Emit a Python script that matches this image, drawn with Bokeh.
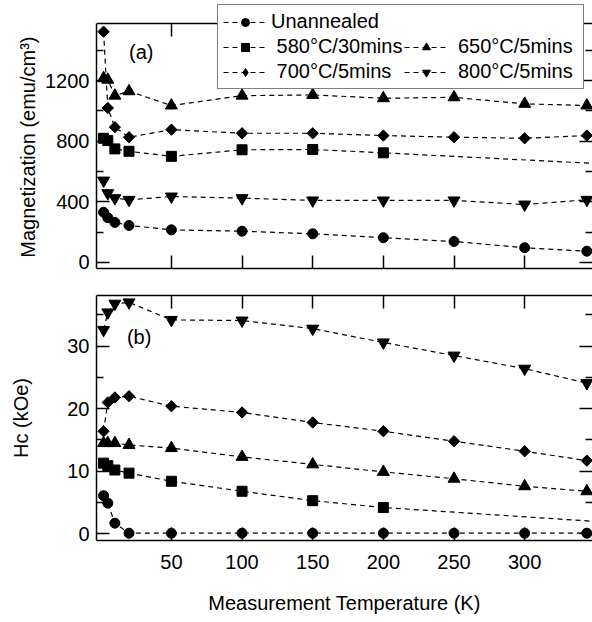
from bokeh.plotting import figure
from bokeh.models import LinearAxis, Range1d, Legend, LegendItem, Label, FixedTicker
from bokeh.layouts import column
from bokeh.embed import file_html
from bokeh.resources import INLINE
import math

FONT = "Liberation Sans"
NBSP = "\u00a0"

series_labels = ["Unannealed", " 580°C/30mins", " 650°C/5mins ", " 700°C/5mins", " 800°C/5mins "]

temperature = [2, 5, 10, 20, 50, 100, 150, 200, 250, 300, 344]
temperature_580 = [2, 5, 10, 20, 50, 100, 150, 200, 362]

mag_unannealed = [331, 295, 264, 244, 215, 206, 189, 163, 138, 97, 74]
mag_580 = [819, 804, 749, 733, 700, 743, 745, 723, 647]
mag_650 = [1215, 1205, 1100, 1129, 1035, 1100, 1105, 1083, 1089, 1046, 1035]
mag_700 = [1522, 1019, 892, 826, 876, 852, 852, 837, 826, 819, 837]
mag_800 = [540, 457, 424, 413, 435, 424, 409, 409, 409, 382, 413]

hc_unannealed = [6.1, 4.9, 1.7, 0.1, 0.1, 0.1, 0.1, 0.1, 0.1, 0.1, 0.1]
hc_580 = [11.3, 10.9, 10.2, 9.7, 8.4, 6.8, 5.3, 4.2, 1.8]
hc_650 = [14.5, 14.5, 14.5, 14.2, 13.7, 12.3, 11.1, 9.9, 8.8, 7.6, 6.8]
hc_700 = [16.4, 21.0, 21.8, 22.0, 20.4, 19.4, 17.8, 16.4, 14.8, 13.2, 11.7]
hc_800 = [32.6, 35.4, 36.8, 37.0, 34.2, 34.1, 32.8, 30.6, 28.5, 26.4, 24.1]

x_ticks = [50, 100, 150, 200, 250, 300]
mag_ticks = [0, 400, 800, 1200]
mag_minor = [200, 600, 1000, 1400]
hc_ticks = [0, 10, 20, 30]
hc_minor = [5, 15, 25, 35]

markers = ["circle", "square", "triangle", "square", "inverted_triangle"]
sizes = [10, 10, 12, 8, 12]
angles = [0, 0, 0, math.pi / 4, 0]

X_RANGE = (-3, 348)
MAG_AXIS = (-40, 1576)     # visible axis box of panel (a)
MAG_VIEW_TOP = 1708        # frame extends above the box so the legend is not clipped
HC_AXIS = (-1.07, 38.1)


def make_fig(height, yr, border_top, border_bottom):
    p = figure(width=592, height=height, x_range=Range1d(*X_RANGE), y_range=Range1d(*yr),
               output_backend="svg", toolbar_location=None,
               x_axis_location=None, y_axis_location=None,
               min_border_left=96, min_border_right=0, min_border_top=border_top,
               min_border_bottom=border_bottom)
    p.outline_line_color = None
    p.grid.grid_line_color = None
    p.background_fill_color = "white"
    p.border_fill_color = "white"
    return p


def style(ax, show_labels, ticks):
    ax.major_tick_in = 13
    ax.major_tick_out = 0
    ax.minor_tick_in = 7
    ax.minor_tick_out = 0
    ax.axis_line_width = 1.5
    ax.major_tick_line_width = 1.5
    ax.minor_tick_line_width = 1.5
    ax.axis_line_color = "black"
    ax.major_tick_line_color = "black"
    ax.minor_tick_line_color = "black"
    ax.major_label_text_font = FONT
    ax.major_label_text_color = "black"
    ax.axis_label_text_font = FONT
    ax.axis_label_text_font_style = "normal"
    ax.axis_label_text_color = "black"
    ax.axis_label_text_font_size = "20px"
    if show_labels:
        ax.major_label_text_font_size = "20px"
        ax.major_label_standoff = 7
    else:
        ax.major_label_overrides = {t: "" for t in ticks}
        ax.major_label_text_font_size = "1px"
        ax.major_label_standoff = 0


def add_axes(p, yticks, yminor, ylabel, ylabel_standoff, bottom_labels, top_at=None, ybounds="auto"):
    xt = FixedTicker(ticks=x_ticks, minor_ticks=[])
    yt = FixedTicker(ticks=yticks, minor_ticks=yminor)
    below = LinearAxis(ticker=xt)
    style(below, bottom_labels, x_ticks)
    if bottom_labels:
        below.major_label_standoff = 14
        below.axis_label = "Measurement Temperature (K)"
        below.axis_label_standoff = 20
    above = LinearAxis(ticker=xt)
    style(above, False, x_ticks)
    if top_at is not None:
        above.fixed_location = top_at
    left = LinearAxis(ticker=yt, axis_label=ylabel, bounds=ybounds)
    style(left, True, yticks)
    left.axis_label_standoff = ylabel_standoff
    right = LinearAxis(ticker=yt, bounds=ybounds)
    style(right, False, yticks)
    right.axis_line_color = None
    p.add_layout(below, "below")
    p.add_layout(above, "above")
    p.add_layout(left, "left")
    p.add_layout(right, "right")


def draw(p, xs_list, ys_list):
    out = []
    for xs, ys, m, s, a in zip(xs_list, ys_list, markers, sizes, angles):
        ln = p.line(xs, ys, line_color="black", line_width=1.2, line_dash="5 4")
        sc = p.scatter(xs, ys, marker=m, size=s, angle=a, fill_color="black", line_color="black")
        out.append([ln, sc])
    return out


xs_list = [temperature, temperature_580, temperature, temperature, temperature]

p1 = make_fig(280, (MAG_AXIS[0], MAG_VIEW_TOP), 3, 12)
add_axes(p1, mag_ticks, mag_minor, "Magnetization (emu/cm³)" + NBSP * 4, 3, False,
         top_at=MAG_AXIS[1], ybounds=MAG_AXIS)
r1 = draw(p1, xs_list, [mag_unannealed, mag_580, mag_650, mag_700, mag_800])

nan = float("nan")
blank = p1.scatter([nan], [nan], marker="circle", size=1, fill_alpha=0, line_alpha=0)
diamond_key = p1.scatter([nan], [nan], marker="diamond", size=15,
                         fill_color="black", line_color="black")
items = [
    LegendItem(label=series_labels[0], renderers=r1[0]),
    LegendItem(label=series_labels[1], renderers=r1[1]),
    LegendItem(label=series_labels[3], renderers=[r1[3][0], diamond_key]),
    LegendItem(label=" ", renderers=[blank]),
    LegendItem(label=series_labels[2], renderers=r1[2]),
    LegendItem(label=series_labels[4], renderers=r1[4]),
]
legend = Legend(items=items, location=(121, 179), orientation="vertical", nrows=3,
                border_line_color="black", border_line_width=1.5,
                background_fill_color="white", background_fill_alpha=1.0,
                padding=5, spacing=2, margin=0, glyph_width=44, glyph_height=20,
                label_standoff=4, label_text_font=FONT, label_text_font_size="20px",
                label_text_color="black")
p1.add_layout(legend)

p1.add_layout(Label(x=20, y=1385, text="(a)", text_font=FONT, text_font_size="20px",
                    text_baseline="middle", text_align="left", text_color="black"))

p2 = make_fig(342, HC_AXIS, 15, 82)
add_axes(p2, hc_ticks, hc_minor, "Hc (kOe)", 32, True)
draw(p2, xs_list, [hc_unannealed, hc_580, hc_650, hc_700, hc_800])
p2.add_layout(Label(x=18.5, y=31.4, text="(b)", text_font=FONT, text_font_size="20px",
                    text_baseline="middle", text_align="left", text_color="black"))

layout = column(p1, p2, spacing=0)
open("out.html", "w").write(file_html(layout, INLINE))
